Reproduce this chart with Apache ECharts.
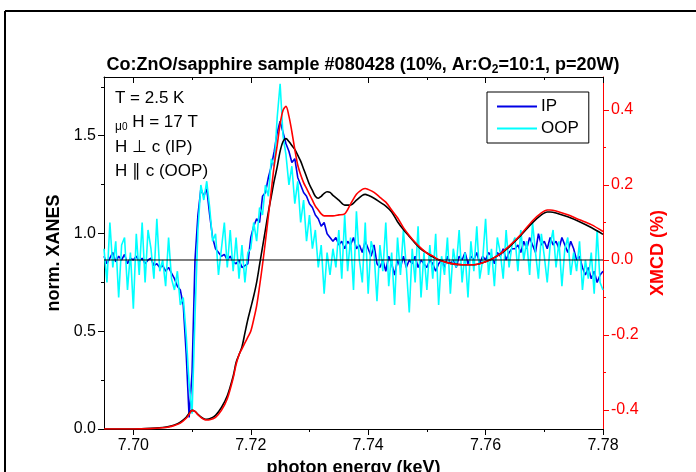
<!DOCTYPE html>
<html><head><meta charset="utf-8">
<script src="https://cdn.jsdelivr.net/npm/echarts@6/dist/echarts.min.js"></script>
<style>html,body{margin:0;padding:0;background:#fff}#c{width:696px;height:472px}</style>
</head><body><div id="c"></div>
<script>
// ---------- data ----------
const xTicks = [7.70, 7.72, 7.74, 7.76, 7.78];
const xMinorTicks = [7.71, 7.73, 7.75, 7.77];
const leftTicks = [0.0, 0.5, 1.0, 1.5];
const leftMinorTicks = [0.25, 0.75, 1.25, 1.75];
const rightTicks = [-0.4, -0.2, 0.0, 0.2, 0.4];
const rightMinorTicks = [-0.3, -0.1, 0.1, 0.3];

// XANES (left axis)
const xanesE = [7.695,7.700,7.703,7.705,7.706,7.707,7.708,7.709,7.7095,7.710,7.7105,7.711,7.7115,7.712,7.7125,7.713,7.714,7.715,7.716,7.717,7.7175,7.718,7.7185,7.719,7.7195,7.720,7.7205,7.721,7.7215,7.722,7.7225,7.723,7.7235,7.724,7.7245,7.725,7.7255,7.726,7.7265,7.727,7.7275,7.728,7.7285,7.729,7.7295,7.730,7.7305,7.731,7.7315,7.732,7.7325,7.733,7.7335,7.734,7.735,7.736,7.737,7.738,7.739,7.7395,7.740,7.741,7.742,7.743,7.744,7.745,7.746,7.747,7.748,7.749,7.750,7.751,7.752,7.754,7.756,7.758,7.760,7.762,7.764,7.766,7.768,7.7695,7.7705,7.771,7.772,7.774,7.776,7.778,7.780];
const xanesIP = [0,0,0.003,0.008,0.012,0.02,0.035,0.06,0.08,0.095,0.09,0.075,0.062,0.053,0.05,0.052,0.07,0.11,0.17,0.27,0.34,0.38,0.42,0.49,0.56,0.62,0.68,0.75,0.84,0.93,1.02,1.11,1.19,1.27,1.34,1.42,1.47,1.485,1.47,1.45,1.43,1.40,1.37,1.33,1.29,1.25,1.22,1.19,1.18,1.19,1.205,1.213,1.21,1.195,1.17,1.145,1.145,1.17,1.195,1.2,1.195,1.18,1.16,1.14,1.11,1.06,1.02,0.985,0.95,0.92,0.9,0.88,0.865,0.847,0.84,0.84,0.855,0.885,0.93,0.99,1.055,1.095,1.11,1.11,1.105,1.085,1.06,1.03,0.995];
const xanesOOP = [0,0,0.002,0.006,0.01,0.018,0.03,0.055,0.075,0.095,0.09,0.073,0.06,0.05,0.046,0.047,0.06,0.095,0.155,0.26,0.33,0.38,0.41,0.44,0.47,0.5,0.56,0.63,0.73,0.84,0.96,1.09,1.22,1.35,1.45,1.56,1.63,1.65,1.6,1.52,1.43,1.35,1.3,1.26,1.23,1.2,1.17,1.14,1.12,1.1,1.09,1.09,1.09,1.09,1.095,1.1,1.15,1.2,1.225,1.23,1.225,1.21,1.185,1.16,1.12,1.08,1.03,0.99,0.955,0.925,0.9,0.885,0.865,0.847,0.84,0.84,0.855,0.885,0.935,0.995,1.065,1.105,1.12,1.12,1.115,1.095,1.07,1.045,1.01];

// XMCD (right axis), sampled every 0.0005 keV from 7.695
const xmcdStart = 7.695, xmcdStep = 0.0005;
const xmcdIP = [
 0.01,-0.01,0.005,0.02,-0.005,0.01,0.0,0.015,-0.01,0.005,0.0,0.01,-0.005,0.005,-0.01,0.0,0.005,-0.015,-0.01,-0.02,-0.015,-0.03,-0.02,-0.035,
 -0.05,-0.07,-0.08,-0.12,-0.25,-0.42,-0.3,0.0,0.12,0.19,0.17,0.19,0.12,0.06,0.03,
 0.02,0.01,0.015,0.0,0.01,-0.005,-0.01,0.0,-0.02,-0.015,-0.01,
 0.06,0.09,0.11,0.1,0.17,0.18,0.22,0.25,0.29,0.34,0.37,0.34,
 0.31,0.29,0.26,0.27,0.22,0.2,0.18,0.17,0.15,0.14,0.12,0.11,0.09,0.1,0.07,0.06,0.05,0.06,
 0.04,0.05,0.03,0.05,0.04,0.06,0.03,0.04,0.02,0.05,0.03,0.01,0.04,-0.01,-0.02,0.0,-0.03,0.01,-0.01,-0.04,0.0,-0.02,0.01,-0.02,0.0,-0.01,0.01,-0.02,0.0,-0.01,
 -0.02,0.0,-0.01,-0.03,-0.01,0.0,-0.02,0.01,-0.01,0.0,-0.02,0.01,0.0,0.02,-0.01,0.01,0.0,0.02,-0.01,0.01,0.0,0.02,0.01,-0.01,0.02,0.01,0.03,0.0,0.02,0.03,
 0.03,0.04,0.02,0.05,0.03,0.06,0.04,0.02,0.07,0.04,0.05,0.03,0.06,0.04,0.05,0.03,0.06,0.04,0.02,0.05,0.03,0.0,0.01,-0.02,-0.04,-0.02,-0.05,-0.03,-0.06,-0.04,-0.03
];
const xmcdOOP = [
 0.03,-0.06,0.1,-0.02,0.05,-0.1,0.04,0.06,-0.08,0.02,-0.13,0.07,-0.04,0.1,-0.06,0.08,0.03,-0.05,0.11,-0.03,0.0,-0.07,0.06,-0.05,
 -0.08,-0.03,-0.12,-0.1,-0.2,-0.33,-0.41,-0.15,0.08,0.2,0.16,0.21,0.14,0.05,0.07,
 -0.04,0.03,0.1,-0.02,0.08,-0.03,0.06,-0.05,0.04,-0.06,0.02,
 0.03,0.1,0.05,0.14,0.12,0.2,0.17,0.27,0.25,0.38,0.47,0.33,
 0.28,0.2,0.25,0.15,0.21,0.1,0.16,0.05,0.12,0.03,0.08,-0.02,0.04,-0.09,0.02,-0.04,0.03,-0.02,
 0.08,-0.05,0.12,-0.03,0.06,-0.08,0.13,0.0,-0.06,0.1,-0.09,0.05,0.02,-0.11,0.04,-0.03,0.1,-0.07,0.02,-0.12,0.06,-0.04,0.08,-0.02,-0.14,0.03,-0.06,0.09,-0.1,0.02,
 -0.08,0.04,-0.05,0.07,-0.12,0.01,-0.04,0.06,-0.09,0.03,-0.02,0.08,-0.06,0.02,-0.1,0.05,-0.03,0.09,-0.05,0.0,0.11,-0.04,0.03,-0.07,0.06,0.02,-0.05,0.08,-0.02,0.04,
 0.06,-0.03,0.08,0.0,0.05,-0.04,0.1,0.02,-0.05,0.07,0.01,-0.06,0.04,0.08,-0.02,0.05,-0.07,0.03,0.06,-0.04,0.02,-0.03,0.05,-0.08,0.0,-0.05,0.02,-0.09,0.08,-0.06,-0.08
];

// ---------- chart ----------
const FONT = 'Liberation Sans, Arial, sans-serif';
const xMin = 7.695, xMax = 7.78;
const lMin = 0, lMax = 1.8;
const rMin = -0.4507, rMax = 0.488;

const pairs = (xs, ys) => xs.map((x, i) => [x, ys[i]]);
const grid = (ys) => ys.map((y, i) => [+(xmcdStart + i * xmcdStep).toFixed(4), y]);

const baseX = {type: 'value', min: xMin, max: xMax, splitLine: {show: false}, gridIndex: 0};
const chart = echarts.init(document.getElementById('c'), null, {renderer: 'canvas'});
chart.setOption({
  animation: false,
  backgroundColor: '#fff',
  title: {
    text: 'Co:ZnO/sapphire sample #080428 (10%, Ar:O{s|2}=10:1, p=20W)',
    left: 358, top: 49, textAlign: 'center',
    textStyle: {fontFamily: FONT, fontSize: 18, fontWeight: 'bold', color: '#000',
      rich: {s: {fontFamily: FONT, fontSize: 12, fontWeight: 'bold', verticalAlign: 'bottom', padding: [10, 0, 0, 0]}}}
  },
  grid: {left: 104, right: 93, top: 77, bottom: 43, containLabel: false, outerBoundsMode: 'none'},
  legend: {
    data: ['IP', 'OOP'], orient: 'vertical', left: 487, top: 92,
    backgroundColor: '#fff', borderColor: '#000', borderWidth: 1,
    padding: [6, 10, 6, 10], itemGap: 5, itemWidth: 40, itemHeight: 2, icon: 'rect',
    textStyle: {fontFamily: FONT, fontSize: 17, color: '#000', lineHeight: 17, padding: [0, 0, 0, -1]}
  },
  xAxis: [
    Object.assign({}, baseX, {position: 'bottom',
      name: 'photon energy (keV)', nameLocation: 'middle', nameGap: 27,
      nameTextStyle: {fontFamily: FONT, fontSize: 18, fontWeight: 'bold', color: '#000'},
      axisLine: {show: true, onZero: false, lineStyle: {color: '#000', width: 1}},
      axisTick: {show: true, inside: false, length: 6, customValues: xTicks, lineStyle: {color: '#000'}},
      axisLabel: {show: true, customValues: xTicks, margin: 9, formatter: v => v.toFixed(2), fontFamily: FONT, fontSize: 16, color: '#000'}}),
    Object.assign({}, baseX, {position: 'bottom',
      axisLine: {show: false, onZero: false},
      axisTick: {show: true, inside: false, length: 3, customValues: xMinorTicks, lineStyle: {color: '#000'}},
      axisLabel: {show: false}}),
    Object.assign({}, baseX, {position: 'top',
      axisLine: {show: true, onZero: false, lineStyle: {color: '#000', width: 1}},
      axisTick: {show: true, inside: true, length: 6, customValues: xTicks, lineStyle: {color: '#000'}},
      axisLabel: {show: false}}),
    Object.assign({}, baseX, {position: 'top',
      axisLine: {show: false, onZero: false},
      axisTick: {show: true, inside: true, length: 3, customValues: xMinorTicks, lineStyle: {color: '#000'}},
      axisLabel: {show: false}})
  ],
  yAxis: [
    {type: 'value', position: 'left', min: lMin, max: lMax, splitLine: {show: false},
      name: 'norm. XANES', nameLocation: 'middle', nameGap: 34,
      nameTextStyle: {fontFamily: FONT, fontSize: 18, fontWeight: 'bold', color: '#000'},
      axisLine: {show: true, onZero: false, lineStyle: {color: '#000', width: 1}},
      axisTick: {show: true, inside: false, length: 6, customValues: leftTicks, lineStyle: {color: '#000'}},
      axisLabel: {show: true, customValues: leftTicks, margin: 8, formatter: v => v.toFixed(1), fontFamily: FONT, fontSize: 16, color: '#000'}},
    {type: 'value', position: 'left', min: lMin, max: lMax, splitLine: {show: false},
      axisLine: {show: false},
      axisTick: {show: true, inside: false, length: 3, customValues: leftMinorTicks, lineStyle: {color: '#000'}},
      axisLabel: {show: false}},
    {type: 'value', position: 'right', min: rMin, max: rMax, splitLine: {show: false},
      name: 'XMCD (%)', nameLocation: 'middle', nameGap: 39,
      nameTextStyle: {fontFamily: FONT, fontSize: 18, fontWeight: 'bold', color: '#ff0000'},
      axisLine: {show: true, onZero: false, lineStyle: {color: '#ff0000', width: 1}},
      axisTick: {show: true, inside: false, length: 6, customValues: rightTicks, lineStyle: {color: '#ff0000'}},
      axisLabel: {show: true, customValues: rightTicks, margin: 8, formatter: v => v.toFixed(1), fontFamily: FONT, fontSize: 16, color: '#ff0000'}},
    {type: 'value', position: 'right', min: rMin, max: rMax, splitLine: {show: false},
      axisLine: {show: false},
      axisTick: {show: true, inside: false, length: 3, customValues: rightMinorTicks, lineStyle: {color: '#ff0000'}},
      axisLabel: {show: false}}
  ],
  graphic: [
    {type: 'line', shape: {x1: 5, y1: 11, x2: 696, y2: 11}, style: {stroke: '#000', lineWidth: 2}},
    {type: 'line', shape: {x1: 5, y1: 11, x2: 5, y2: 472}, style: {stroke: '#000', lineWidth: 2}},
    {type: 'text', left: 115, top: 90, style: {text: 'T = 2.5 K', font: '17px ' + FONT, fill: '#000'}},
    {type: 'text', left: 115, top: 114, style: {text: '{m|μ}{z|0}{n| H = 17 T}', font: '17px ' + FONT, fill: '#000',
      rich: {m: {fontSize: 12, fontFamily: FONT, verticalAlign: 'bottom', padding: [0,0,0,0]}, z: {fontSize: 10, fontFamily: FONT, verticalAlign: 'bottom', padding: [10,0,0,0]}, n: {fontSize: 17, fontFamily: FONT}}}},
    {type: 'text', left: 115, top: 139, style: {text: 'H ⊥ c (IP)', font: '17px ' + FONT, fill: '#000'}},
    {type: 'text', left: 115, top: 163, style: {text: 'H ∥ c (OOP)', font: '17px ' + FONT, fill: '#000'}}
  ],
  series: [
    {name: 'IP', type: 'line', xAxisIndex: 0, yAxisIndex: 2, data: grid(xmcdIP), showSymbol: false, symbol: 'none',
      lineStyle: {color: '#0000e6', width: 1.6}, itemStyle: {color: '#0000e6'}},
    {name: 'OOP', type: 'line', xAxisIndex: 0, yAxisIndex: 2, data: grid(xmcdOOP), showSymbol: false, symbol: 'none',
      lineStyle: {color: '#00ffff', width: 1.6}, itemStyle: {color: '#00ffff'}},
    {name: 'XANES IP', type: 'line', xAxisIndex: 0, yAxisIndex: 0, data: pairs(xanesE, xanesIP), showSymbol: false, symbol: 'none', smooth: 0.3,
      lineStyle: {color: '#000', width: 1.6}},
    {name: 'XANES OOP', type: 'line', xAxisIndex: 0, yAxisIndex: 0, data: pairs(xanesE, xanesOOP), showSymbol: false, symbol: 'none', smooth: 0.3,
      lineStyle: {color: '#ff0000', width: 1.6}},
    {name: 'zero', type: 'line', xAxisIndex: 0, yAxisIndex: 2, data: [[xMin, 0], [xMax, 0]], showSymbol: false, symbol: 'none',
      lineStyle: {color: '#000', width: 1}, silent: true}
  ]
});
</script></body></html>
